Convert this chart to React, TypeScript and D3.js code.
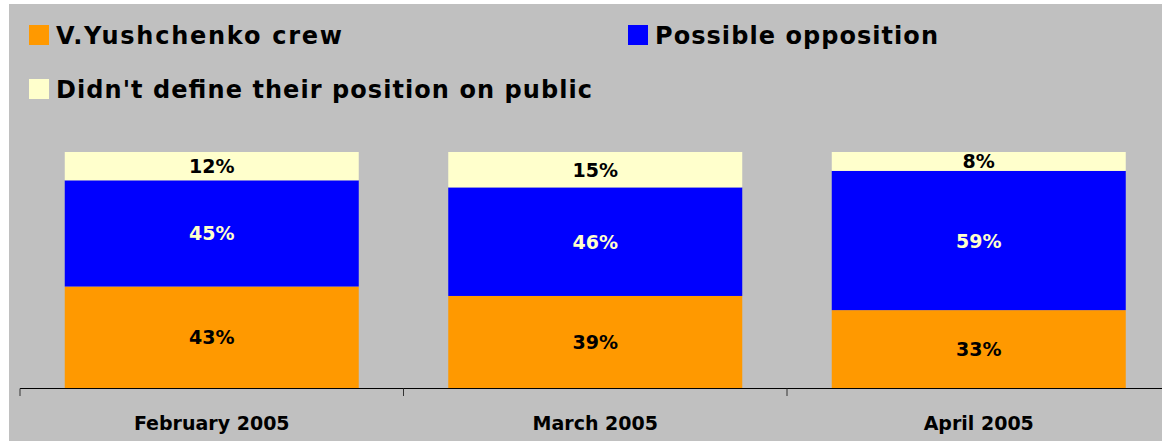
import React from "react";
import * as d3 from "d3";

const categories = ["February 2005", "March 2005", "April 2005"];
const crew = [43, 39, 33];
const opposition = [45, 46, 59];
const undefinedPos = [12, 15, 8];
const seriesNames = ["V.Yushchenko crew", "Possible opposition", "Didn't define their position on public"];
const seriesColors = ["#FF9900", "#0000FF", "#FFFFCC"];
const labelColors = ["#000000", "#FFFFCC", "#000000"];

const W = 1162;
const H = 441;
const FONT = "'DejaVu Sans', Verdana, sans-serif";

export default function App() {
  const x = d3
    .scaleBand<string>()
    .domain(categories)
    .range([20, 1170.5])
    .paddingInner(0.2334)
    .paddingOuter(0.1167);
  const step = x.step();
  const y = d3.scaleLinear().domain([0, 100]).range([388, 152]);

  const rows = categories.map((c, i) => ({ c, vals: [crew[i], opposition[i], undefinedPos[i]] }));
  const stack = d3
    .stack<{ c: string; vals: number[] }, number>()
    .keys([0, 1, 2])
    .value((d, k) => d.vals[k]);
  const stacked = stack(rows);

  const boundaries = [0, 1, 2].map((i) => 20 + i * step);

  const legend = [
    { x: 29, y: 25, i: 0, len: 286 },
    { x: 628, y: 25, i: 1, len: 283 },
    { x: 29, y: 79, i: 2, len: 536 },
  ];

  return (
    <svg width={W} height={H} style={{ position: "absolute", left: 0, top: 0 }}>
      <rect x={9} y={4} width={W - 9} height={H - 4} fill="#C0C0C0" />
      {legend.map((l) => (
        <g key={l.i}>
          <rect x={l.x} y={l.y} width={20} height={20} fill={seriesColors[l.i]} />
          <text
            x={l.x + 27}
            y={l.y + 19}
            fontFamily={FONT}
            fontWeight="bold"
            fontSize={24}
            fill="#000"
            textLength={l.len}
            lengthAdjust="spacing"
          >
            {seriesNames[l.i]}
          </text>
        </g>
      ))}
      {stacked.map((s, si) => (
        <g key={si}>
          {s.map((d, di) => {
            const bx = x(rows[di].c)!;
            const y0 = y(d[0]);
            const y1 = y(d[1]);
            return (
              <g key={di}>
                <rect x={bx} y={y1} width={x.bandwidth()} height={y0 - y1} fill={seriesColors[si]} />
                <text
                  x={bx + x.bandwidth() / 2}
                  y={(y0 + y1) / 2 + 7}
                  textAnchor="middle"
                  fontFamily={FONT}
                  fontWeight="bold"
                  fontSize={19}
                  fill={labelColors[si]}
                >
                  {rows[di].vals[si]}%
                </text>
              </g>
            );
          })}
        </g>
      ))}
      <line x1={20} x2={W} y1={388.5} y2={388.5} stroke="#000" strokeWidth={1} />
      {boundaries.map((b, i) => (
        <line key={i} x1={b} x2={b} y1={388.5} y2={396} stroke="#333" strokeWidth={1} />
      ))}
      {categories.map((c) => (
        <text
          key={c}
          x={x(c)! + x.bandwidth() / 2}
          y={430}
          textAnchor="middle"
          fontFamily={FONT}
          fontWeight="bold"
          fontSize={19}
          fill="#000"
        >
          {c}
        </text>
      ))}
    </svg>
  );
}
